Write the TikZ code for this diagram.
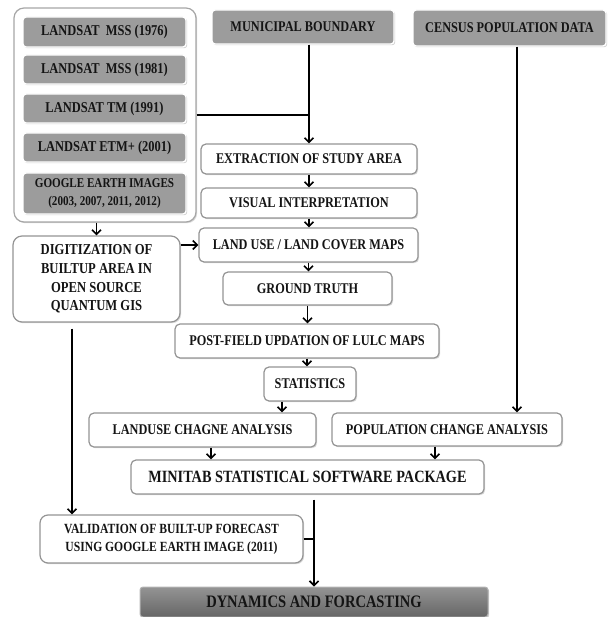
\documentclass[tikz,border=0pt]{standalone}
\usepackage{fontspec}
\setmainfont[FakeStretch=0.83]{Liberation Serif}
\usetikzlibrary{arrows.meta,shadows}
\begin{document}
\begin{tikzpicture}[x=1pt,y=-1pt,
  txt/.style={font=\fontsize{14.8}{18.5}\selectfont\bfseries, text=black!92, align=center, inner sep=0pt},
  wbox/.style={txt, draw=black!42, line width=1.2pt, fill=white, rounded corners=5pt,
    drop shadow={shadow xshift=1.2pt, shadow yshift=-1.2pt, opacity=0.25, fill=black!60}},
  gbox/.style={txt, draw=white, line width=1.4pt, fill=black!39, rounded corners=3pt,
    drop shadow={shadow xshift=1.2pt, shadow yshift=-1.2pt, opacity=0.3, fill=black!60}},
  conn/.style={line width=1.6pt, black},
  arr/.style={conn, -{Straight Barb[length=4.5pt,width=9pt,line width=1.6pt]}}
]
\useasboundingbox (0,0) rectangle (607,617);

% left container with data sources
\node[wbox, rounded corners=10pt, draw=black!35, minimum width=182pt, minimum height=214pt] (cont) at (105,115) {};
\node[gbox, minimum width=163pt, minimum height=30pt, font=\fontsize{15}{18.5}\selectfont\bfseries] (b1) at (104.5,32) {LANDSAT\ \ MSS (1976)};
\node[gbox, minimum width=163pt, minimum height=29pt, font=\fontsize{15}{18.5}\selectfont\bfseries] (b2) at (104.5,69.5) {LANDSAT\ \ MSS (1981)};
\node[gbox, minimum width=163pt, minimum height=29pt, font=\fontsize{15}{18.5}\selectfont\bfseries] (b3) at (104.5,108.5) {LANDSAT TM (1991)};
\node[gbox, minimum width=163pt, minimum height=29pt, font=\fontsize{15}{18.5}\selectfont\bfseries] (b4) at (104.5,147.5) {LANDSAT ETM+ (2001)};
\node[gbox, minimum width=163pt, minimum height=41pt, font=\fontsize{13.4}{17.5}\selectfont\bfseries] (b5) at (104.5,193.5) {GOOGLE EARTH IMAGES\\(2003, 2007, 2011, 2012)};

% top sources
\node[gbox, minimum width=182pt, minimum height=34pt] (mun) at (303,27) {MUNICIPAL BOUNDARY};
\node[gbox, minimum width=193pt, minimum height=36pt] (cen) at (509.5,28) {CENSUS POPULATION DATA};

% main column
\node[wbox, minimum width=216pt, minimum height=30pt] (ext) at (309,159) {EXTRACTION OF STUDY AREA};
\node[wbox, minimum width=216pt, minimum height=30pt] (vis) at (309,203) {VISUAL INTERPRETATION};
\node[wbox, minimum width=219pt, minimum height=34pt] (lulc) at (308.5,245) {LAND USE / LAND COVER MAPS};
\node[wbox, minimum width=169pt, minimum height=33pt] (gt) at (307.5,288.5) {GROUND TRUTH};
\node[wbox, minimum width=264pt, minimum height=34pt] (post) at (307,341) {POST-FIELD UPDATION OF LULC MAPS};
\node[wbox, minimum width=92pt, minimum height=34pt] (stat) at (310,384) {STATISTICS};
\node[wbox, minimum width=227pt, minimum height=34pt] (luc) at (202.5,430) {LANDUSE CHAGNE ANALYSIS};
\node[wbox, minimum width=230pt, minimum height=33pt] (pop) at (447,429.5) {POPULATION CHANGE ANALYSIS};
\node[wbox, minimum width=353pt, minimum height=34pt, font=\fontsize{17.2}{18}\selectfont\bfseries] (mini) at (307.5,477) {MINITAB STATISTICAL SOFTWARE PACKAGE};

% left branch
\node[wbox, rounded corners=9pt, minimum width=167pt, minimum height=86pt, font=\fontsize{15.2}{18.7}\selectfont\bfseries] (dig) at (96.5,279) {DIGITIZATION OF\\BUILTUP AREA IN\\OPEN SOURCE\\QUANTUM GIS};
\node[wbox, rounded corners=8pt, minimum width=263pt, minimum height=48pt, font=\fontsize{14}{18.3}\selectfont\bfseries] (val) at (171.5,539) {VALIDATION OF BUILT-UP FORECAST\\USING GOOGLE EARTH IMAGE (2011)};

% result
\node[txt, draw=black!30, line width=1pt, rounded corners=3pt, top color=black!42, bottom color=black!60,
  drop shadow={shadow xshift=1.2pt, shadow yshift=-1.2pt, opacity=0.3, fill=black!60},
  minimum width=348pt, minimum height=30pt, font=\fontsize{17.5}{18}\selectfont\bfseries] (dyn) at (314,602) {DYNAMICS AND FORCASTING};

% connectors
\draw[conn] (cont.east) -- (cont.east -| ext.north);
\draw[arr] (ext.north |- mun.south) -- (ext.north);
\draw[arr] (ext.south) -- (vis.north);
\draw[arr] (vis.south) -- (vis.south |- lulc.north);
\draw[arr] (lulc.south) -- (lulc.south |- gt.north);
\draw[arr] (gt.south) -- (gt.south |- post.north);
\draw[arr] (post.south) -- (post.south |- stat.north);
\draw[arr] ([xshift=-28pt]stat.south) -- ([xshift=-28pt]stat.south |- luc.north);
\draw[arr] ([xshift=7.5pt]cen.south) -- ([xshift=7.5pt]cen.south |- pop.north);
\draw[arr] ([xshift=8.5pt]luc.south) -- ([xshift=8.5pt]luc.south |- mini.north);
\draw[arr] ([xshift=-12pt]pop.south) -- ([xshift=-12pt]pop.south |- mini.north);
\draw[arr] ([yshift=-5pt]dyn.north |- mini.south) -- (dyn.north);
\draw[conn] (val.east) -- (val.east -| dyn.north);
\draw[arr] (dig.north |- cont.south) -- (dig.north);
\draw[arr] (lulc.west -| dig.east) -- (lulc.west);
\draw[arr] ([xshift=-24.5pt,yshift=-6pt]dig.south) -- ([xshift=-24.5pt]dig.south |- val.north);
\end{tikzpicture}
\end{document}
